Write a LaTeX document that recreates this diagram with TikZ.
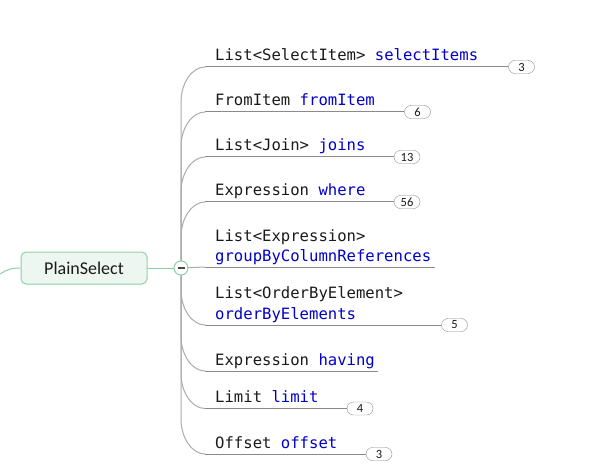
\documentclass[tikz,border=0pt]{standalone}
\usepackage{fontspec}
\setmainfont{Carlito}
\newfontfamily\monof{DejaVu Sans Mono}
\definecolor{gline}{HTML}{8ECFA6}
\definecolor{gfill}{HTML}{EEF6F1}
\definecolor{trunkc}{HTML}{ABABAB}
\definecolor{hlc}{HTML}{8A8A8A}
\definecolor{kw}{HTML}{0000C8}
\definecolor{txt}{HTML}{1A1A1A}
\begin{document}
\begin{tikzpicture}[x=1pt,y=-1pt,
  lbl/.style={inner sep=0pt, anchor=base west, align=left, text=txt,
    font=\monof\fontsize{15.6}{20.5}\selectfont},
  badge/.style={draw=hlc, fill=white, rounded corners=6.5pt, minimum width=26pt,
    minimum height=13pt, inner sep=0pt, text=txt, font=\fontsize{12.5}{12.5}\selectfont},
  tr/.style={draw=trunkc, line width=1pt},
  hl/.style={draw=hlc, line width=1pt},
  gl/.style={draw=gline, line width=1pt}]
\useasboundingbox (0,0) rectangle (589,465);

\coordinate (cc) at (181,268);

% badges and end points
\node[badge] (b1) at (521.5,67) {3};
\node[badge] (b2) at (417.5,112) {6};
\node[badge] (b3) at (407,157) {13};
\node[badge] (b4) at (407,202) {56};
\coordinate (b5) at (435,267);
\node[badge] (b6) at (454.5,325) {5};
\coordinate (b7) at (378,371);
\node[badge] (b8) at (360,408.5) {4};
\node[badge] (b9) at (379,454) {3};

% branch start / bend points
\foreach \i/\y in {1/67,2/112,3/157,4/202}{
  \coordinate (s\i) at (181,\y+35);
  \coordinate (h\i) at (205,\y);
  \draw[tr] (cc) -- (s\i) .. controls +(0,-19) and +(-13,0) .. (h\i);
  \draw[hl] (h\i) -- (b\i);
}
\foreach \i/\y in {6/325,7/371,8/408.5,9/454}{
  \coordinate (s\i) at (181,\y-35);
  \coordinate (h\i) at (205,\y);
  \draw[tr] (cc) -- (s\i) .. controls +(0,19) and +(-13,0) .. (h\i);
  \draw[hl] (h\i) -- (b\i);
}
\coordinate (h5) at (205,267);
\draw[tr] (cc) -- (h5);
\draw[hl] (h5) -- (b5);

% labels
\node[lbl] (t1) at (215,61) {List<SelectItem> \textcolor{kw}{selectItems}};
\node[lbl] (t2) at (215,106) {FromItem \textcolor{kw}{fromItem}};
\node[lbl] (t3) at (215,151) {List<Join> \textcolor{kw}{joins}};
\node[lbl] (t4) at (215,196) {Expression \textcolor{kw}{where}};
\node[lbl] (t5) at (215,261.5) {List<Expression>\\\textcolor{kw}{groupByColumnReferences}};
\node[lbl] (t6) at (215,319) {List<OrderByElement>\\\textcolor{kw}{orderByElements}};
\node[lbl] (t7) at (215,365) {Expression \textcolor{kw}{having}};
\node[lbl] (t8) at (215,402.5) {Limit \textcolor{kw}{limit}};
\node[lbl] (t9) at (215,448) {Offset \textcolor{kw}{offset}};

% root
\node[draw=gline, fill=gfill, line width=1pt, rounded corners=5pt, minimum width=126pt,
  minimum height=32pt, inner sep=0pt, text=txt, font=\fontsize{18}{18}\selectfont]
  (ps) at (84,268) {PlainSelect};
\coordinate (l0) at (0,274);
\draw[gl] (l0) .. controls (8,269) and (12,268) .. (ps.west);
\node[circle, draw=gline, fill=white, line width=1pt, minimum size=14pt, inner sep=0pt,
  path picture={\draw[line width=1.3pt, draw=txt!80]
    ([xshift=-3.5pt]path picture bounding box.center) --
    ([xshift=3.5pt]path picture bounding box.center);}] (c) at (cc) {};
\draw[gl] (ps) -- (c);
\end{tikzpicture}
\end{document}
